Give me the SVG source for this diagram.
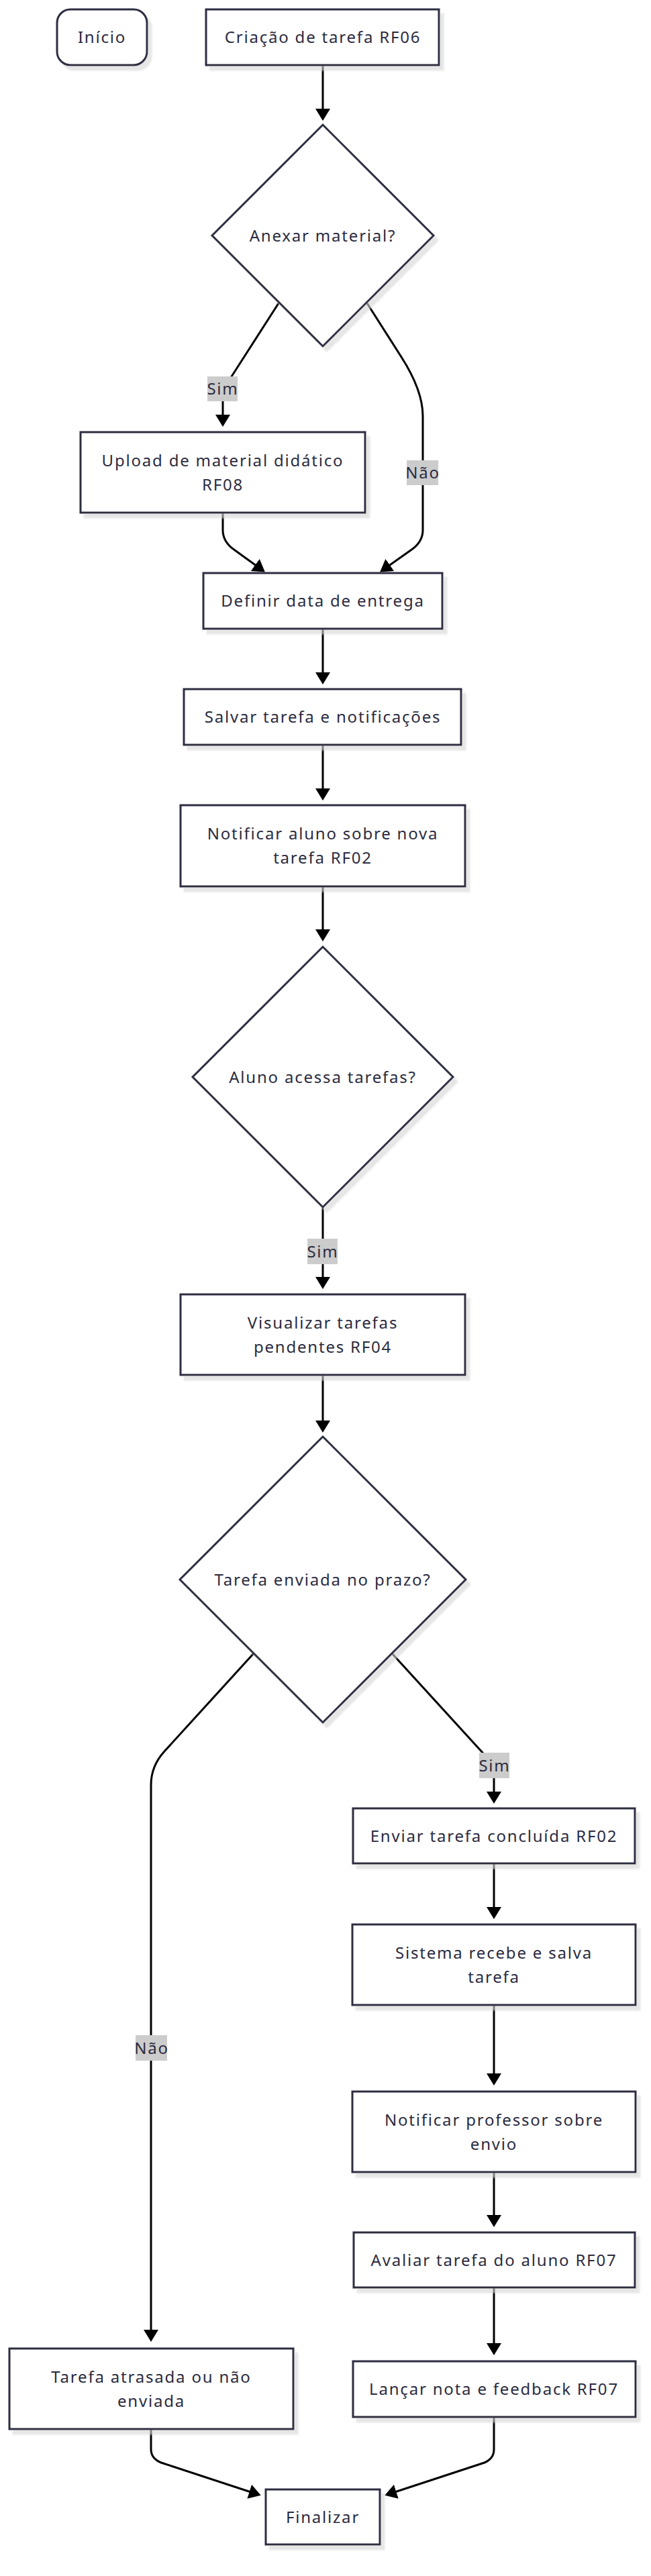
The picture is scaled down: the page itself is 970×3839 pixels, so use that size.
<svg xmlns="http://www.w3.org/2000/svg" width="970" height="3839" viewBox="0 0 970 3839">
<style>
.n{fill:#ffffff;stroke:#2d2d42;stroke-width:3;filter:url(#sh)}
.t{font-family:"Noto Sans","DejaVu Sans",sans-serif;font-size:24px;fill:#2b2b40;text-anchor:middle;letter-spacing:1.8px}
.e{fill:none;stroke:#000000;stroke-width:3;marker-end:url(#ah)}
.lb{fill:#cccccc}
</style>
<defs>
<filter id="sh" x="-10%" y="-10%" width="130%" height="130%">
<feDropShadow dx="6" dy="7" stdDeviation="1" flood-color="#d6d6d6" flood-opacity="0.6"/>
</filter>
<marker id="ah" viewBox="0 0 18 22" refX="12" refY="11" markerWidth="18" markerHeight="22" markerUnits="userSpaceOnUse" orient="auto">
<path d="M0,0 L18,11 L0,22 z" fill="#000000"/>
</marker>
</defs>
<rect width="970" height="3839" fill="#ffffff"/>

<g id="connectors">
<path class="e" d="M481,97 V174"/>
<path class="e" d="M415,452 L338,572 Q332,580 332,592 L332,630"/>
<path class="e" d="M547,452 L598,532 Q630,582 630,620 L630,790 Q630,808 612,820 L571,849"/>
<path class="e" d="M332,764 L332,790 Q332,808 350,820 L390,849"/>
<path class="e" d="M481,937 V1014"/>
<path class="e" d="M481,1110 V1187"/>
<path class="e" d="M481,1321 V1397"/>
<path class="e" d="M481,1799 V1915"/>
<path class="e" d="M481,2049 V2129"/>
<path class="e" d="M584,2464 L720,2613 Q736,2630 736,2645 L736,2682"/>
<path class="e" d="M378,2464 L245,2610 Q225,2632 225,2660 L225,3484"/>
<path class="e" d="M736,2777 V2854"/>
<path class="e" d="M736,2988 V3102"/>
<path class="e" d="M736,3237 V3313"/>
<path class="e" d="M736,3409 V3504"/>
<path class="e" d="M225,3620 V3650 Q225,3664 240,3670 L383,3717"/>
<path class="e" d="M736,3602 V3650 Q736,3664 722,3670 L579,3717"/>
<g id="edge-labels">
<rect class="lb" x="309" y="561" width="45" height="37"/>
<text class="t" x="332" y="588">Sim</text>
<rect class="lb" x="606" y="686" width="47" height="37"/>
<text class="t" x="630" y="713">Não</text>
<rect class="lb" x="458" y="1846" width="45" height="38"/>
<text class="t" x="481" y="1873.5">Sim</text>
<rect class="lb" x="714" y="2612" width="45" height="38"/>
<text class="t" x="737" y="2639.5">Sim</text>
<rect class="lb" x="202" y="3033" width="47" height="38"/>
<text class="t" x="226" y="3060.5">Não</text>
</g>
</g>

<g id="inicio"><rect class="n" x="85" y="14" width="134" height="83" rx="20"/><text class="t" x="152" y="64">Início</text></g>
<g id="criacao"><rect class="n" x="307" y="14" width="347" height="83"/><text class="t" x="481" y="64">Criação de tarefa RF06</text></g>
<g id="anexar"><polygon class="n" points="481,186 646,351 481,516 316,351"/><text class="t" x="481" y="359.5">Anexar material?</text></g>
<g id="upload"><rect class="n" x="120" y="644" width="424" height="120"/><text class="t" x="332" y="694.5">Upload de material didático</text><text class="t" x="332" y="730.5">RF08</text></g>
<g id="definir"><rect class="n" x="303" y="854" width="356" height="83"/><text class="t" x="481" y="904">Definir data de entrega</text></g>
<g id="salvar"><rect class="n" x="274" y="1027" width="413" height="83"/><text class="t" x="481" y="1077">Salvar tarefa e notificações</text></g>
<g id="notificar-aluno"><rect class="n" x="269" y="1200" width="424" height="121"/><text class="t" x="481" y="1251">Notificar aluno sobre nova</text><text class="t" x="481" y="1287">tarefa RF02</text></g>
<g id="aluno-acessa"><polygon class="n" points="481,1411 675,1605 481,1799 287,1605"/><text class="t" x="481" y="1613.5">Aluno acessa tarefas?</text></g>
<g id="visualizar"><rect class="n" x="269" y="1929" width="424" height="120"/><text class="t" x="481" y="1979.5">Visualizar tarefas</text><text class="t" x="481" y="2015.5">pendentes RF04</text></g>
<g id="tarefa-prazo"><polygon class="n" points="481,2141 694,2354 481,2567 268,2354"/><text class="t" x="481" y="2362.5">Tarefa enviada no prazo?</text></g>
<g id="enviar"><rect class="n" x="526" y="2695" width="420" height="82"/><text class="t" x="736" y="2744.5">Enviar tarefa concluída RF02</text></g>
<g id="sistema"><rect class="n" x="525" y="2868" width="422" height="120"/><text class="t" x="736" y="2918.5">Sistema recebe e salva</text><text class="t" x="736" y="2954.5">tarefa</text></g>
<g id="notificar-prof"><rect class="n" x="525" y="3117" width="422" height="120"/><text class="t" x="736" y="3167.5">Notificar professor sobre</text><text class="t" x="736" y="3203.5">envio</text></g>
<g id="avaliar"><rect class="n" x="527" y="3327" width="419" height="82"/><text class="t" x="736" y="3376.5">Avaliar tarefa do aluno RF07</text></g>
<g id="lancar"><rect class="n" x="526" y="3519" width="421" height="83"/><text class="t" x="736" y="3569">Lançar nota e feedback RF07</text></g>
<g id="atrasada"><rect class="n" x="14" y="3500" width="423" height="120"/><text class="t" x="225.5" y="3550.5">Tarefa atrasada ou não</text><text class="t" x="225.5" y="3586.5">enviada</text></g>
<g id="finalizar"><rect class="n" x="396" y="3710" width="170" height="82"/><text class="t" x="481" y="3759.5">Finalizar</text></g>
</svg>
